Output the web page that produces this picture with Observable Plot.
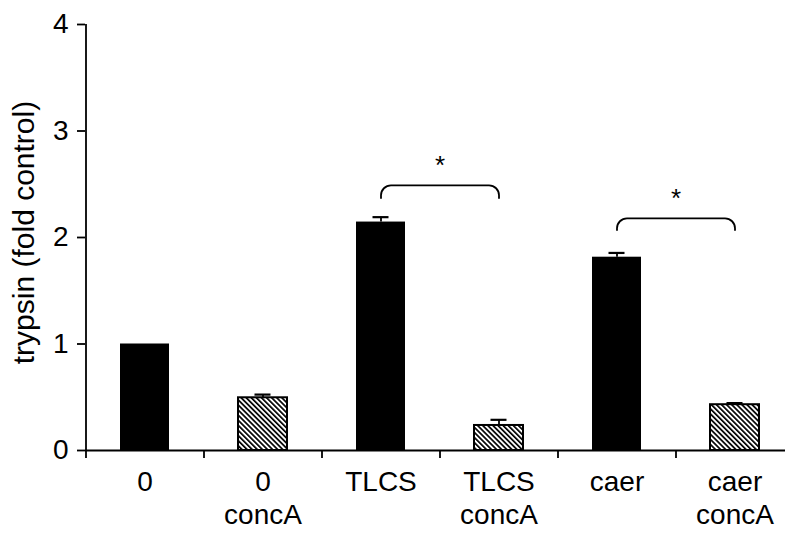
<!DOCTYPE html>
<html>
<head>
<meta charset="utf-8">
<script src="https://cdn.jsdelivr.net/npm/d3@7"></script>
<script src="https://cdn.jsdelivr.net/npm/@observablehq/plot@0.6"></script>
<style>
  html, body { margin: 0; padding: 0; background: #fff; }
</style>
</head>
<body>
<div id="chart"></div>
<script>
// ---- data ----
const categories = ["0", "0\nconcA", "TLCS", "TLCS\nconcA", "caer", "caer\nconcA"];
const values = [1.0, 0.495, 2.145, 0.235, 1.815, 0.43];
const errors = [0, 0.03, 0.046, 0.053, 0.04, 0.015];
const hatched = [false, true, false, true, false, true];
const yTicks = [0, 1, 2, 3, 4];
const yLabel = "trypsin (fold control)";
const bracketFrom = ["TLCS", "caer"];
const bracketTo = ["TLCS\nconcA", "caer\nconcA"];
const bracketTop = [2.49, 2.18];
const bracketLeg = [2.37, 2.07];
const bracketMark = ["*", "*"];

// ---- layout ----
const W = 785, H = 536;
const xRange = [85, 793];
const half = (xRange[1] - xRange[0]) / categories.length / 2;
const font = "'Liberation Sans', Arial, Helvetica, sans-serif";

const bars = categories.map((c, i) => ({cat: c, value: values[i], err: errors[i], hatched: hatched[i]}));
const errBars = bars.filter(d => d.err > 0);
const bracketPts = bracketFrom.flatMap((f, i) => [
  {b: i, x: f, y: bracketLeg[i]},
  {b: i, x: f, y: bracketTop[i]},
  {b: i, x: bracketTo[i], y: bracketTop[i]},
  {b: i, x: bracketTo[i], y: bracketLeg[i]}
]);
const stars = bracketFrom.map((f, i) => ({x: f, y: bracketTop[i], t: bracketMark[i]}));

function roundedCorners(r) {
  return function(context) {
    let pts = [];
    return {
      areaStart() {}, areaEnd() {},
      lineStart() { pts = []; },
      point(x, y) { pts.push([x, y]); },
      lineEnd() {
        if (!pts.length) return;
        context.moveTo(pts[0][0], pts[0][1]);
        for (let i = 1; i < pts.length - 1; i++) {
          context.arcTo(pts[i][0], pts[i][1], pts[i + 1][0], pts[i + 1][1], r);
        }
        const l = pts[pts.length - 1];
        context.lineTo(l[0], l[1]);
      }
    };
  };
}

const chart = Plot.plot({
  width: W,
  height: H,
  marginLeft: 85,
  marginRight: 0,
  marginTop: 24,
  marginBottom: 86,
  style: {fontFamily: font, fontSize: "28px", color: "black", background: "white"},
  x: {type: "band", domain: categories, range: xRange, paddingInner: 0.585, paddingOuter: 0.2925, align: 0.5},
  y: {domain: [0, 4]},
  marks: [
    Plot.barY(bars.filter(d => !d.hatched), {x: "cat", y: "value", fill: "black"}),
    Plot.barY(bars.filter(d => d.hatched), {x: "cat", y: "value", fill: "url(#hatch)", stroke: "black", strokeWidth: 2}),
    Plot.ruleX(errBars, {x: "cat", y1: "value", y2: d => d.value + d.err, stroke: "black", strokeWidth: 1.8}),
    Plot.tickY(errBars, {x: "cat", y: d => d.value + d.err, insetLeft: 16.5, insetRight: 16.5, stroke: "black", strokeWidth: 2.2}),
    Plot.line(bracketPts, {x: "x", y: "y", z: "b", curve: roundedCorners(10), stroke: "black", strokeWidth: 1.8}),
    Plot.text(stars, {x: "x", y: "y", text: "t", dx: half, dy: -20, fontSize: 26}),
    Plot.ruleY([0], {stroke: "black", strokeWidth: 1.8}),
    Plot.ruleX([categories[0]], {y1: 0, y2: 4, dx: -half, stroke: "black", strokeWidth: 1.8}),
    Plot.axisY({ticks: yTicks, tickSize: 8, tickPadding: 9, tickFormat: d3.format("d"), fontSize: 28, label: null, strokeWidth: 1.8}),
    Plot.axisX({tickSize: 8, dx: -half, tickFormat: () => "", label: null, strokeWidth: 1.8}),
    Plot.axisX({tickSize: 0, tickPadding: 17, fontSize: 28, lineHeight: 1.18, label: null}),
    Plot.text([yLabel], {frameAnchor: "left", textAnchor: "middle", rotate: -90, dx: -61, dy: -5, fontSize: 30})
  ]
});

const defs = d3.select(chart).insert("defs", ":first-child");
const pat = defs.append("pattern")
  .attr("id", "hatch")
  .attr("patternUnits", "userSpaceOnUse")
  .attr("width", 3.6)
  .attr("height", 10)
  .attr("patternTransform", "rotate(-45)");
pat.append("rect").attr("width", 3.6).attr("height", 10).attr("fill", "white");
pat.append("rect").attr("width", 1.7).attr("height", 10).attr("fill", "black");

document.getElementById("chart").appendChild(chart);
</script>
</body>
</html>
